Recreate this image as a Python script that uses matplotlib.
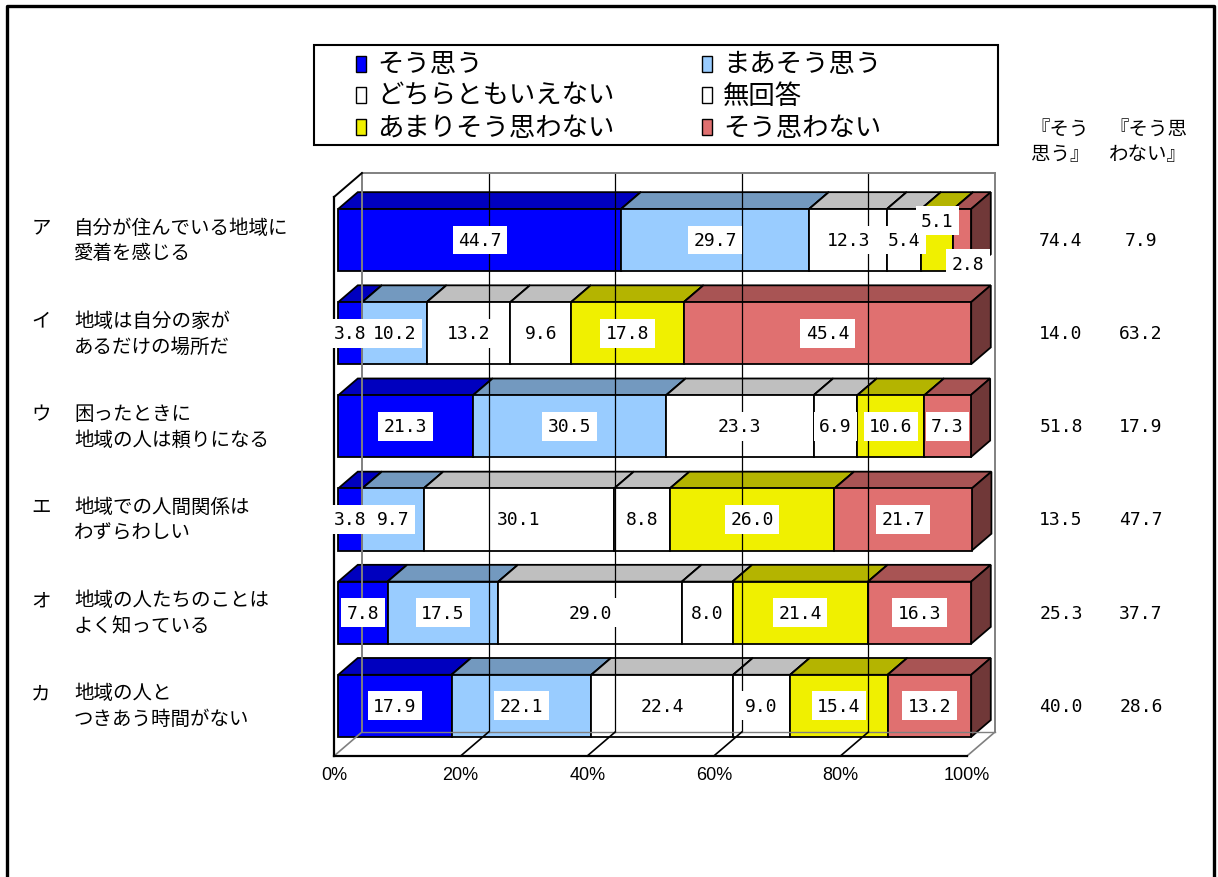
"""
地域との関わりについての意識 (3D風 積み上げ横棒グラフ)
"""

import numpy as np
import matplotlib
matplotlib.use("Agg")
import matplotlib.pyplot as plt
from matplotlib.patches import Polygon, Rectangle
from matplotlib.lines import Line2D
from matplotlib.transforms import blended_transform_factory

plt.rcParams['font.family'] = ['Noto Sans CJK JP', 'DejaVu Sans']

# data
kana = ["ア", "イ", "ウ", "エ", "オ", "カ"]
questions = ["自分が住んでいる地域に\n愛着を感じる",
             "地域は自分の家が\nあるだけの場所だ",
             "困ったときに\n地域の人は頼りになる",
             "地域での人間関係は\nわずらわしい",
             "地域の人たちのことは\nよく知っている",
             "地域の人と\nつきあう時間がない"]
answers = ["そう思う", "まあそう思う", "どちらともいえない", "無回答",
           "あまりそう思わない", "そう思わない"]
sou_omou = [44.7, 3.8, 21.3, 3.8, 7.8, 17.9]
maa_sou_omou = [29.7, 10.2, 30.5, 9.7, 17.5, 22.1]
dochira = [12.3, 13.2, 23.3, 30.1, 29.0, 22.4]
mukaitou = [5.4, 9.6, 6.9, 8.8, 8.0, 9.0]
amari = [5.1, 17.8, 10.6, 26.0, 21.4, 15.4]
sou_omowanai = [2.8, 45.4, 7.3, 21.7, 16.3, 13.2]
pct_ticks = [0, 20, 40, 60, 80, 100]

# colours: front face, top face is 0.75x, side face 0.5x
front_colors = ["#0000FF", "#99CCFF", "#FFFFFF", "#FFFFFF", "#F0F000", "#E07070"]

# depth of the box (x in %, y in category units)
DX = 4.42
DY = 0.2576
Z0, Z1 = 0.15, 0.85
HALF_H = 0.333

# labels that get pushed out of small segments (row, segment) -> points
label_nudge = {(0, 4): (0, 14), (0, 5): (4, -17)}

NUM_FONT = ['DejaVu Sans Mono']
TICK_FONT = ['Liberation Sans Narrow', 'Liberation Sans']


def shade(color, k):
    r, g, b = matplotlib.colors.to_rgb(color)
    return (r * k, g * k, b * k)


def draw_walls(ax):
    kw = dict(clip_on=False, solid_capstyle='projecting')
    # back wall
    for p in pct_ticks:
        c = 'gray' if p in (0, 100) else 'black'
        lw = 1.4 if p in (0, 100) else 0.9
        ax.plot([p + DX, p + DX], [-DY, 6 - DY], color=c, lw=lw, **kw)
    ax.plot([DX, 100 + DX], [-DY, -DY], color='gray', lw=1.4, **kw)
    ax.plot([DX, 100 + DX], [6 - DY, 6 - DY], color='gray', lw=1.0, **kw)
    # floor
    for p in pct_ticks:
        c = 'gray' if p in (0, 100) else 'black'
        ax.plot([p, p + DX], [6, 6 - DY], color=c, lw=1.2, **kw)
    ax.plot([0, 100], [6, 6], color='black', lw=1.6, **kw)
    # left wall
    ax.plot([0, 0], [0, 6], color='black', lw=1.6, **kw)
    ax.plot([0, DX], [0, -DY], color='black', lw=1.4, **kw)


def draw_box(ax, x0, x1, yc, color):
    d = Z1 - Z0
    xl, xr = x0 + Z0 * DX, x1 + Z0 * DX
    yt, yb = yc - HALF_H - Z0 * DY, yc + HALF_H - Z0 * DY
    kw = dict(ec='black', lw=1.3, clip_on=False, joinstyle='miter')
    ax.add_patch(Polygon([(xl, yt), (xr, yt), (xr + d * DX, yt - d * DY),
                          (xl + d * DX, yt - d * DY)], fc=shade(color, 0.75), **kw))
    ax.add_patch(Polygon([(xr, yt), (xr, yb), (xr + d * DX, yb - d * DY),
                          (xr + d * DX, yt - d * DY)], fc=shade(color, 0.5), **kw))
    ax.add_patch(Polygon([(xl, yt), (xr, yt), (xr, yb), (xl, yb)],
                         fc=color, **kw))
    return (xl + xr) / 2, yc - Z0 * DY


def main():
    fig = plt.figure(figsize=(12.18, 8.78), dpi=100)
    ax = fig.add_axes([334 / 1218, 121 / 878, 633 / 1218, 559 / 878])
    ax.set_xlim(0, 100)
    ax.set_ylim(6, 0)
    for s in ax.spines.values():
        s.set_visible(False)
    ax.patch.set_visible(False)
    ax.set_yticks([])
    ax.set_xticks(pct_ticks)
    ax.set_xticklabels([f"{p}%" for p in pct_ticks], family=TICK_FONT,
                       fontsize=13)
    ax.tick_params(axis='x', length=0, pad=7)

    draw_walls(ax)

    series = np.array([sou_omou, maa_sou_omou, dochira, mukaitou,
                       amari, sou_omowanai])
    centers = []
    for i in range(len(kana)):
        x = 0.0
        for j in range(len(answers)):
            v = series[j, i]
            cx, cy = draw_box(ax, x, x + v, i + 0.5, front_colors[j])
            dx, dy = label_nudge.get((i, j), (0, 0))
            ax.annotate(f"{v:.1f}", (cx, cy), xytext=(dx, dy),
                        textcoords='offset points', ha='center', va='center',
                        family=NUM_FONT, fontsize=13, annotation_clip=False,
                        bbox=dict(boxstyle='square,pad=0.3', fc='white',
                                  ec='none'))
            x += v
        centers.append(i + 0.5 - Z0 * DY)

    # question labels on the left, totals on the right
    tr = blended_transform_factory(fig.transFigure, ax.transData)
    for i in range(len(kana)):
        ax.text(41 / 1218, centers[i], kana[i] + "\n　", transform=tr,
                ha='center', va='center', fontsize=14, linespacing=1.3)
        ax.text(74 / 1218, centers[i], questions[i], transform=tr,
                ha='left', va='center', fontsize=14, linespacing=1.3)
        pos = round(series[0, i] + series[1, i], 1)
        neg = round(series[4, i] + series[5, i], 1)
        ax.text(1061 / 1218, centers[i], f"{pos:.1f}", transform=tr,
                ha='center', va='center', family=NUM_FONT, fontsize=13)
        ax.text(1141 / 1218, centers[i], f"{neg:.1f}", transform=tr,
                ha='center', va='center', family=NUM_FONT, fontsize=13)

    fig.text(1060 / 1218, 1 - 142 / 878, "『そう\n思う』", ha='center',
             va='center', fontsize=14, linespacing=1.3)
    fig.text(1148 / 1218, 1 - 142 / 878, "『そう思\nわない』", ha='center',
             va='center', fontsize=14, linespacing=1.3)

    # legend box
    fig.patches.append(Rectangle((314 / 1218, 1 - 146 / 878), 684 / 1218,
                                 100 / 878, transform=fig.transFigure,
                                 fc='white', ec='black', lw=1.5))
    rows = [65, 96, 128]
    cols = [356, 702]
    for k, name in enumerate(answers):
        px, py = cols[k % 2], rows[k // 2]
        fig.patches.append(Rectangle((px / 1218, 1 - (py + 8) / 878),
                                     10 / 1218, 16 / 878,
                                     transform=fig.transFigure,
                                     fc=front_colors[k], ec='black', lw=1.0))
        fig.text((px + 21) / 1218, 1 - py / 878, name, ha='left',
                 va='center', fontsize=19)

    # outer frame, open at the bottom
    fig.lines.append(Line2D([7 / 1218, 7 / 1218, 1214 / 1218, 1214 / 1218],
                            [0, 1 - 7 / 878, 1 - 7 / 878, 0],
                            transform=fig.transFigure, color='black', lw=2.4))

    fig.savefig("out.png", dpi=100)


if __name__ == '__main__':
    main()
